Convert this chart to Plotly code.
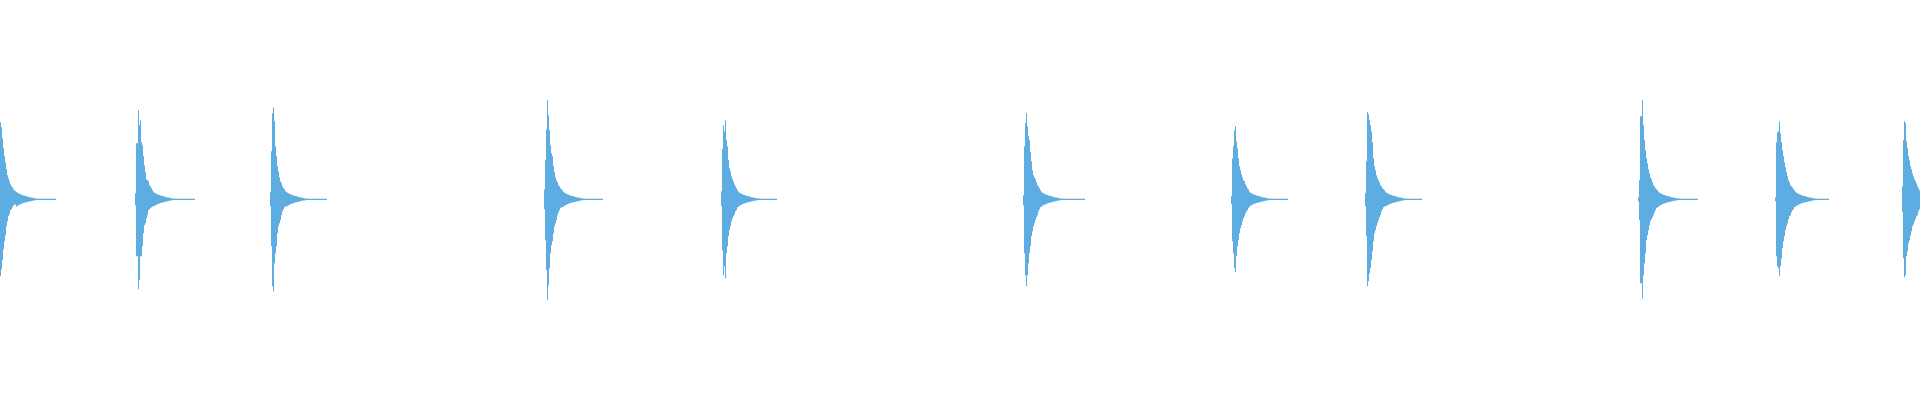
import plotly.graph_objects as go

# waveform bursts: onset sample, end sample, envelope (top / bottom)
burst_start = [0, 135, 270, 544, 721, 1023, 1231, 1365, 1638, 1775, 1902]
burst_end = [56, 195, 327, 603, 777, 1085, 1288, 1422, 1698, 1829, 1920]

head_top = [
    [77, 72, 61, 51, 43, 37, 30, 24, 21, 18, 15, 13, 12, 10, 9, 8],
    [6, 56, 56, 89, 74, 79, 57, 54, 43, 34, 27, 20, 19, 18, 14, 13, 11, 9],
    [7, 48, 86, 92, 78, 53, 43, 33, 28, 22, 18, 16, 13, 11, 10, 8],
    [10, 39, 70, 99, 84, 69, 54, 46, 43, 33, 27, 22, 19, 17, 14, 13, 11, 10, 9],
    [8, 50, 74, 68, 79, 59, 53, 39, 31, 28, 23, 20, 18, 15, 13, 11, 9],
    [4, 53, 76, 86, 73, 63, 59, 47, 38, 29, 24, 22, 20, 17, 14, 13, 11, 9],
    [3, 41, 53, 69, 73, 58, 51, 41, 33, 29, 25, 22, 19, 18, 15, 13, 11, 10],
    [6, 38, 87, 85, 79, 74, 68, 57, 41, 33, 29, 24, 21, 19, 17, 14, 13, 11, 10, 9],
    [2, 19, 83, 83, 99, 74, 59, 49, 41, 36, 30, 26, 22, 20, 17, 14, 13, 11, 10, 9],
    [2, 57, 67, 68, 78, 66, 57, 49, 43, 37, 32, 27, 23, 19, 17, 14, 13, 12, 10, 9],
    [13, 59, 78, 76, 58, 51, 43, 39, 33, 30, 26, 23, 20, 18, 16, 13, 11, 9],
]
head_bot = [
    [77, 70, 61, 50, 42, 36, 27, 22, 17, 15, 11, 10, 8, 6, 6, 5],
    [6, 57, 57, 90, 81, 57, 57, 47, 34, 26, 24, 19, 16, 11, 10, 9, 8, 7],
    [7, 47, 87, 92, 64, 54, 47, 34, 27, 24, 21, 16, 12, 10, 8, 7],
    [10, 41, 71, 101, 86, 69, 54, 46, 42, 34, 27, 24, 21, 16, 13, 11, 9, 8, 8],
    [7, 51, 76, 67, 79, 54, 47, 37, 31, 27, 22, 19, 17, 15, 12, 11, 8],
    [6, 54, 76, 87, 76, 64, 54, 47, 37, 32, 27, 24, 21, 18, 16, 12, 10, 8],
    [5, 42, 54, 69, 73, 57, 47, 41, 34, 29, 26, 22, 19, 17, 14, 12, 11, 9],
    [7, 37, 87, 82, 74, 69, 61, 52, 42, 34, 31, 27, 24, 21, 18, 16, 12, 10, 8, 7],
    [2, 21, 84, 84, 99, 76, 64, 54, 41, 36, 31, 26, 22, 20, 18, 16, 13, 11, 9, 8],
    [2, 57, 67, 69, 77, 67, 59, 49, 42, 37, 31, 27, 24, 20, 17, 16, 13, 11, 10, 8],
    [13, 59, 78, 76, 57, 52, 44, 41, 36, 32, 27, 25, 22, 20, 17, 16, 12, 10],
]
# decay tail shared by all bursts, then a flat near-silent line to the burst end
tail_env = [7.5, 6.5, 6, 5.5, 5, 4.5, 4.2, 3.8, 3.5, 3.2, 3, 2.7, 2.4, 2.1,
            1.9, 1.7, 1.5, 1.3, 1.1, 0.9, 0.8, 0.7, 0.6]

WAVE_COLOR = "#5dade2"

fig = go.Figure()
for start, end, top, bot in zip(burst_start, burst_end, head_top, head_bot):
    up = top + tail_env
    down = bot + tail_env
    cols = [start + i for i in range(len(up)) if start + i < end]
    up = up[:len(cols)]
    down = down[:len(cols)]
    # column edges; the last column stretches out to the burst end
    edges = cols + [end]
    # top runs left->right, bottom comes back right->left, both as steps
    xs = edges + edges[1:][::-1] + [edges[0]]
    ys = up + [up[-1]] + [-v for v in down[::-1]] + [-down[0]]
    fig.add_trace(go.Scatter(
        x=xs,
        y=ys,
        fill="toself",
        fillcolor=WAVE_COLOR,
        line=dict(width=0, shape="hv"),
        mode="lines",
        hoverinfo="skip",
        showlegend=False,
    ))

fig.update_layout(
    width=1920,
    height=400,
    margin=dict(l=0, r=0, t=0, b=0),
    paper_bgcolor="white",
    plot_bgcolor="white",
    xaxis=dict(range=[0, 1920], visible=False, fixedrange=True),
    yaxis=dict(range=[-200.7, 199.3], visible=False, fixedrange=True),
)

# drop the browser's default body margin so the plot sits flush at 0,0
fig.write_html(
    "out.html",
    config={"displayModeBar": False, "staticPlot": True},
    post_script="document.body.style.margin='0';",
)
